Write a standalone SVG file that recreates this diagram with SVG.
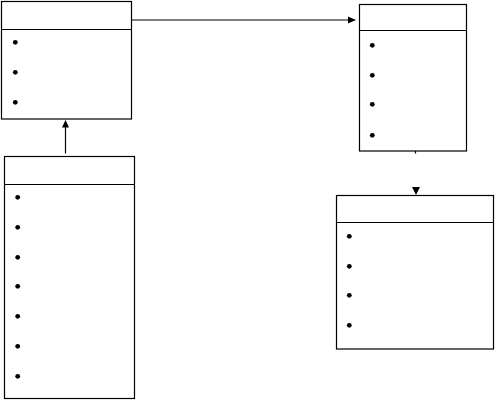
<svg xmlns="http://www.w3.org/2000/svg" width="495" height="400" viewBox="0 0 495 400">
<style>
.box{fill:#fff;stroke:#000;stroke-width:1.2}
.sep{stroke:#000;stroke-width:1.2}
.dot{fill:#000}
.edge{stroke:#000;stroke-width:1.2;fill:none}
.head{fill:#000}
</style>
<rect width="495" height="400" fill="#fff"/>
<g id="node1">
<rect class="box" x="1.5" y="1.5" width="130" height="117.5"/>
<line class="sep" x1="1.5" y1="29.5" x2="131.5" y2="29.5"/>
<circle class="dot" cx="15.3" cy="42.3" r="2.4"/>
<circle class="dot" cx="15.3" cy="72.3" r="2.4"/>
<circle class="dot" cx="15.3" cy="102.3" r="2.4"/>
</g>
<g id="node2">
<rect class="box" x="359.5" y="4.5" width="107" height="146.5"/>
<line class="sep" x1="359.5" y1="30.5" x2="466.5" y2="30.5"/>
<circle class="dot" cx="372.3" cy="45.3" r="2.4"/>
<circle class="dot" cx="372.3" cy="75.3" r="2.4"/>
<circle class="dot" cx="372.3" cy="104.3" r="2.4"/>
<circle class="dot" cx="372.3" cy="135.3" r="2.4"/>
</g>
<g id="node3">
<rect class="box" x="4.5" y="156.5" width="130" height="242"/>
<line class="sep" x1="4.5" y1="184.5" x2="134.5" y2="184.5"/>
<circle class="dot" cx="17.7" cy="197.3" r="2.4"/>
<circle class="dot" cx="17.7" cy="227.3" r="2.4"/>
<circle class="dot" cx="17.7" cy="257.3" r="2.4"/>
<circle class="dot" cx="17.7" cy="286.3" r="2.4"/>
<circle class="dot" cx="17.7" cy="316.3" r="2.4"/>
<circle class="dot" cx="17.7" cy="346.3" r="2.4"/>
<circle class="dot" cx="17.7" cy="376.3" r="2.4"/>
</g>
<g id="node4">
<rect class="box" x="336.5" y="195.5" width="157" height="153.5"/>
<line class="sep" x1="336.5" y1="222.5" x2="493.5" y2="222.5"/>
<circle class="dot" cx="349.3" cy="236.3" r="2.4"/>
<circle class="dot" cx="349.3" cy="266.3" r="2.4"/>
<circle class="dot" cx="349.3" cy="295.3" r="2.4"/>
<circle class="dot" cx="349.3" cy="325.3" r="2.4"/>
</g>
<g id="connectors">
<line class="edge" x1="131.5" y1="20" x2="349" y2="20"/>
<polygon class="head" points="356,20 348,16.5 348,23.5"/>
<line class="edge" x1="65.5" y1="153.5" x2="65.5" y2="126"/>
<polygon class="head" points="65.5,120 62,127.5 69,127.5"/>
<line class="edge" x1="415.5" y1="151" x2="415.5" y2="153.5"/>
<polygon class="head" points="416,195 412,187 420,187"/>
</g>
</svg>
